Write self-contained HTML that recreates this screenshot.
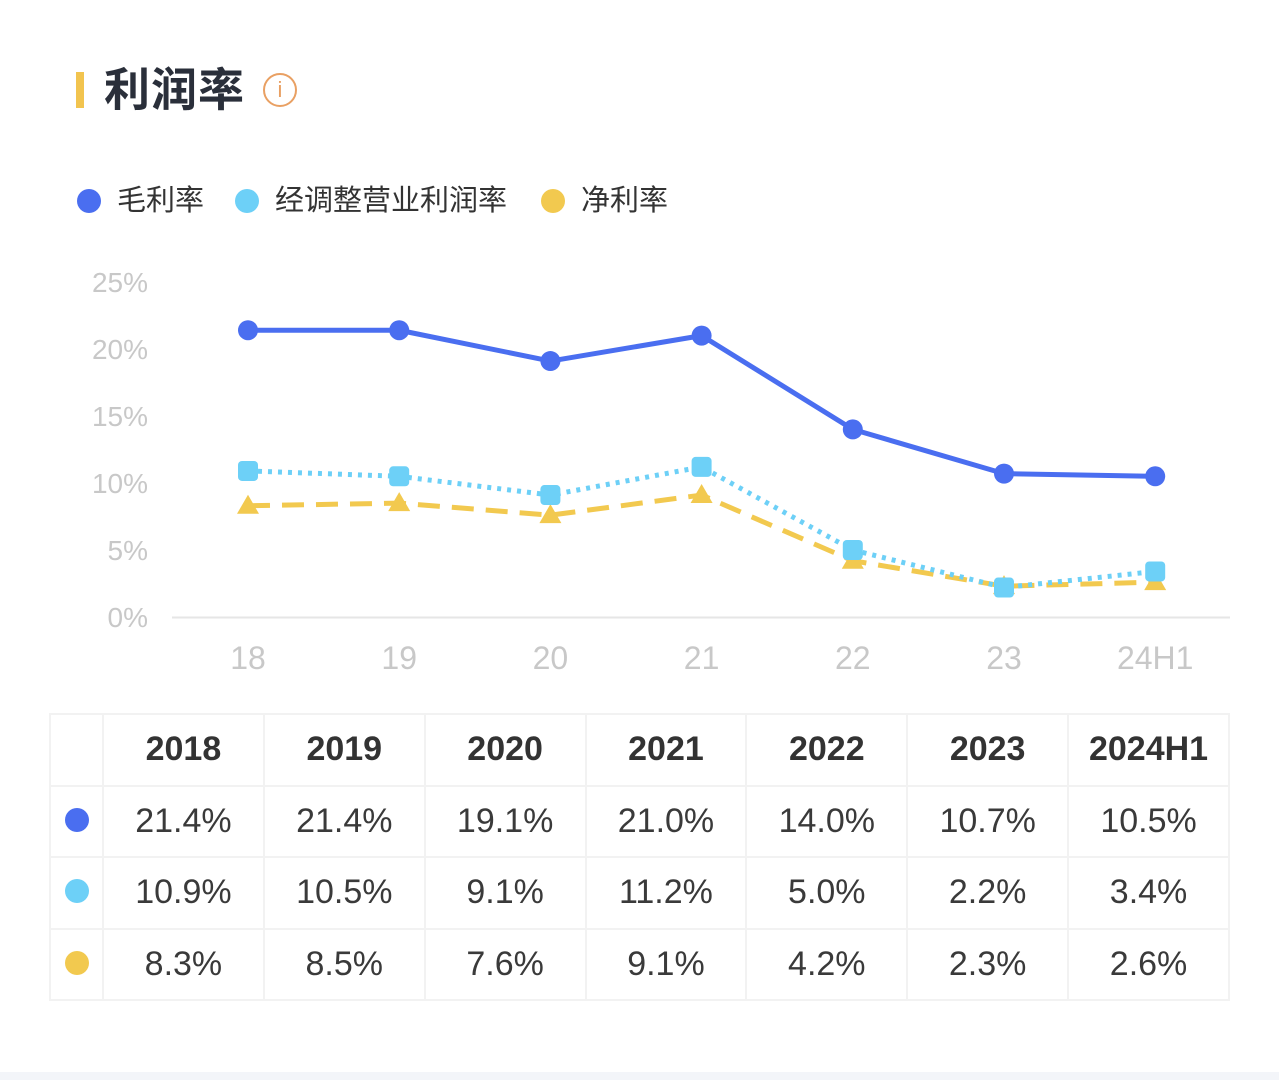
<!DOCTYPE html>
<html><head><meta charset="utf-8">
<style>
html,body{margin:0;padding:0;background:#fff;width:1279px;height:1080px;overflow:hidden;font-family:"Liberation Sans","Noto Sans CJK SC",sans-serif;}
#wrap{position:relative;width:1279px;height:1080px;}
.abs{position:absolute;}
#title{left:104px;top:62px;font-size:46px;font-weight:bold;color:#2a2f3a;line-height:56px;letter-spacing:1px;}
#tbar{left:76px;top:72px;width:8px;height:36px;background:#f2c44f;}
#info{left:263px;top:73px;width:30px;height:30px;border:2.5px solid #e9a063;border-radius:50%;color:#e9a063;font-size:22px;text-align:center;line-height:30px;}
.leg{top:184px;font-size:29px;color:#333;line-height:34px;display:flex;align-items:center;}
.leg i{display:inline-block;width:24px;height:24px;border-radius:50%;margin-right:16px;}
#bottom{left:0;top:1072px;width:1279px;height:8px;background:#f3f5f9;}
table{position:absolute;left:49px;top:713px;border-collapse:collapse;table-layout:fixed;width:1181px;}
td{border:2px solid #f2f2f2;text-align:center;font-size:34px;color:#3a3a3a;height:69.5px;padding:0;}
td.h{font-weight:bold;color:#333;}
td.d{width:51px;}
.dot{display:inline-block;width:24px;height:24px;border-radius:50%;}
</style></head>
<body>
<div id="wrap">
<div class="abs" id="tbar"></div>
<div class="abs" id="title">利润率</div>
<div class="abs" id="info">i</div>
<div class="abs leg" style="left:77px"><i style="background:#4a6ef0"></i>毛利率</div>
<div class="abs leg" style="left:235px"><i style="background:#6dd0f7"></i>经调整营业利润率</div>
<div class="abs leg" style="left:541px"><i style="background:#f2c94f"></i>净利率</div>
<svg class="abs" id="chart" style="left:0;top:0" width="1279" height="700"></svg>
<table id="tbl"></table>
<div class="abs" id="bottom"></div>
</div>
<script>
const categories = ["18","19","20","21","22","23","24H1"];
const years = ["2018","2019","2020","2021","2022","2023","2024H1"];
const gross = [21.4,21.4,19.1,21.0,14.0,10.7,10.5];
const adjOp = [10.9,10.5,9.1,11.2,5.0,2.2,3.4];
const net = [8.3,8.5,7.6,9.1,4.2,2.3,2.6];
const yTicks = [0,5,10,15,20,25];

const NS="http://www.w3.org/2000/svg";
const svg=document.getElementById('chart');
const x=i=>248+i*151.2;
const y=v=>617-v*13.4;
function mk(t,a){const e=document.createElementNS(NS,t);for(const k in a)e.setAttribute(k,a[k]);svg.appendChild(e);return e;}
yTicks.forEach(t=>{
  const e=mk('text',{x:148,y:y(t)+10,'text-anchor':'end','font-size':28,fill:'#c8c8c8'});
  
  
  e.textContent=t+'%';
});
const axis=mk('line',{x1:172,x2:1230,y1:617.5,y2:617.5,stroke:'#e6e6e6','stroke-width':2});


categories.forEach((c,i)=>{
  const e=mk('text',{x:x(i),y:669,'text-anchor':'middle','font-size':32,fill:'#c8c8c8'});
  
  
  e.textContent=c;
});
function series(vals,color,dash,shape,name){
  const pts=vals.map((v,i)=>x(i)+','+y(v)).join(' ');
  const l=mk('polyline',{points:pts,fill:'none',stroke:color,'stroke-width':5,'stroke-dasharray':dash,'stroke-linejoin':'round'});
  
  
  vals.forEach((v,i)=>{
    let m;
    if(shape==='circle') m=mk('circle',{cx:x(i),cy:y(v),r:10,fill:color});
    else if(shape==='square') m=mk('rect',{x:x(i)-10,y:y(v)-10,width:20,height:20,rx:4,fill:color});
    else m=mk('polygon',{points:`${x(i)},${y(v)-11} ${x(i)-11},${y(v)+8} ${x(i)+11},${y(v)+8}`,fill:color});
    
    
  });
}
series(net,'#f2c94f','22 12','tri','net-margin');
series(adjOp,'#6dd0f7','4 6','square','adjusted-operating-margin');
series(gross,'#4a6ef0','','circle','gross-margin');

const tbl=document.getElementById('tbl');
let h='<tr><td class="d"></td>'+years.map(y=>'<td class="c h">'+y+'</td>').join('')+'</tr>';
[[gross,'#4a6ef0','gross-row'],[adjOp,'#6dd0f7','adjusted-operating-row'],[net,'#f2c94f','net-row']].forEach(r=>{
  h+='<tr><td class="d"><span class="dot" style="background:'+r[1]+'"></span></td>'+r[0].map(v=>'<td class="c">'+v.toFixed(1)+'%</td>').join('')+'</tr>';
});
tbl.innerHTML=h;
</script>
</body></html>
